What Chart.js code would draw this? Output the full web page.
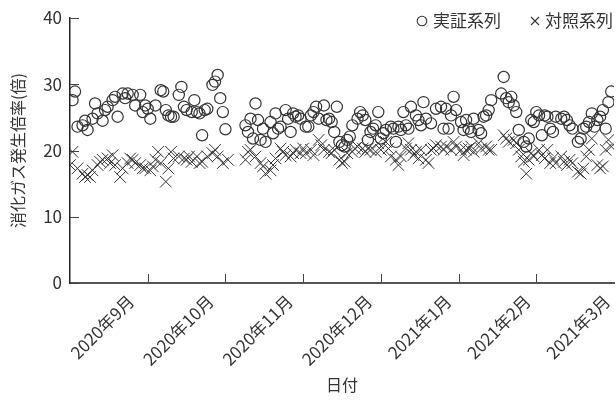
<!DOCTYPE html>
<html lang="ja">
<head>
<meta charset="utf-8">
<script src="https://cdn.jsdelivr.net/npm/chart.js@4/dist/chart.umd.min.js"></script>
<style>
  html, body { margin: 0; padding: 0; background: #fff; }
  #wrap { width: 616px; height: 403px; position: relative; }
</style>
</head>
<body>
<div id="wrap"><canvas id="chart"></canvas></div>
<script>
// 目盛りラベル (各月1日の位置)
const monthLabels = ['2020年9月', '2020年10月', '2020年11月', '2020年12月', '2021年1月', '2021年2月', '2021年3月'];
const xTitle = '日付';
const yTitle = '消化ガス発生倍率(倍)';
const yTicks = [0, 10, 20, 30, 40];

// 実証系列
const demoDates = [
  '2020-08-02','2020-08-03','2020-08-04','2020-08-06','2020-08-07','2020-08-08','2020-08-10','2020-08-11','2020-08-12','2020-08-14',
  '2020-08-15','2020-08-16','2020-08-18','2020-08-19','2020-08-20','2020-08-22','2020-08-23','2020-08-24','2020-08-26','2020-08-27',
  '2020-08-29','2020-08-30','2020-08-31',
  '2020-09-01','2020-09-02','2020-09-04','2020-09-06','2020-09-07','2020-09-08','2020-09-09','2020-09-10','2020-09-11','2020-09-13',
  '2020-09-14','2020-09-15','2020-09-16','2020-09-18','2020-09-19','2020-09-20','2020-09-21','2020-09-22','2020-09-23','2020-09-24',
  '2020-09-26','2020-09-27','2020-09-28','2020-09-29','2020-09-30',
  '2020-10-01','2020-10-09','2020-10-10','2020-10-11','2020-10-12','2020-10-13','2020-10-14','2020-10-15','2020-10-16','2020-10-17',
  '2020-10-19','2020-10-20','2020-10-21','2020-10-22','2020-10-23','2020-10-25','2020-10-26','2020-10-27','2020-10-28','2020-10-29',
  '2020-10-30','2020-10-31',
  '2020-11-02','2020-11-03','2020-11-04','2020-11-05','2020-11-06','2020-11-07','2020-11-09','2020-11-10','2020-11-11','2020-11-12',
  '2020-11-13','2020-11-14','2020-11-15','2020-11-16','2020-11-17','2020-11-18','2020-11-19','2020-11-20','2020-11-22','2020-11-23',
  '2020-11-24','2020-11-25','2020-11-26','2020-11-27','2020-11-28','2020-11-29','2020-11-30',
  '2020-12-01','2020-12-02','2020-12-03','2020-12-05','2020-12-06','2020-12-07','2020-12-08','2020-12-09','2020-12-10','2020-12-11',
  '2020-12-12','2020-12-13','2020-12-15','2020-12-16','2020-12-17','2020-12-18','2020-12-19','2020-12-21','2020-12-23','2020-12-25',
  '2020-12-26','2020-12-27','2020-12-28','2020-12-29','2020-12-30','2020-12-31',
  '2021-01-02','2021-01-03','2021-01-04','2021-01-05','2021-01-06','2021-01-07','2021-01-09','2021-01-10','2021-01-11','2021-01-12',
  '2021-01-13','2021-01-14','2021-01-18','2021-01-19','2021-01-20','2021-01-21','2021-01-22','2021-01-23','2021-01-24','2021-01-25',
  '2021-01-27','2021-01-28','2021-01-29','2021-01-30','2021-01-31',
  '2021-02-01','2021-02-02','2021-02-03','2021-02-04','2021-02-05','2021-02-06','2021-02-07','2021-02-08','2021-02-10','2021-02-11',
  '2021-02-12','2021-02-13','2021-02-14','2021-02-16','2021-02-17','2021-02-18','2021-02-19','2021-02-20','2021-02-21','2021-02-22',
  '2021-02-23','2021-02-24','2021-02-25','2021-02-26','2021-02-27','2021-02-28'
];
const demoValues = [
  27.6, 28.9, 23.6, 23.8, 24.5, 23.1, 24.8, 27.1, 25.6, 24.5,
  26.1, 26.6, 27.6, 28.1, 25.1, 28.6, 27.9, 28.6, 28.4, 26.8,
  28.4, 25.8, 26.8,
  26.3, 24.8, 26.8, 29.1, 28.9, 26.1, 25.3, 25.1, 25.1, 28.4,
  29.6, 26.6, 26.1, 25.8, 27.6, 25.8, 25.6, 22.3, 26.1, 26.3,
  29.9, 30.4, 31.4, 27.9, 25.8,
  23.2, 23.8, 22.8, 24.8, 21.8, 27.1, 24.6, 21.6, 23.3, 21.3,
  24.3, 22.6, 25.6, 23.3, 23.6, 26.1, 24.8, 22.8, 25.6, 25.1,
  25.3, 24.8,
  23.6, 23.6, 25.3, 25.8, 26.6, 24.8, 26.8, 24.6, 24.8, 24.3,
  22.8, 26.6, 21.3, 20.8, 20.6, 21.6, 22.1, 23.8, 24.8, 25.8,
  25.3, 24.6, 21.6, 22.8, 23.3, 23.8, 25.8,
  21.8, 22.6, 23.1, 23.6, 23.3, 21.3, 23.6, 23.1, 25.8, 23.8,
  23.3, 26.6, 25.3, 24.6, 23.8, 27.3, 24.8, 24.1, 26.3, 26.6,
  23.3, 26.3, 23.3, 25.3, 28.1, 26.1,
  24.3, 23.1, 24.6, 23.3, 22.8, 24.8, 23.1, 22.6, 25.1, 25.3,
  26.1, 27.6, 28.6, 31.1, 27.9, 27.3, 28.1, 26.8, 25.8, 23.1,
  21.3, 20.6, 21.8, 24.6, 24.3,
  25.8, 25.3, 22.3, 25.3, 25.1, 23.3, 22.8, 25.1, 24.8, 25.1,
  24.6, 23.8, 23.3, 21.3, 21.8, 23.3, 23.6, 24.3, 25.6, 23.6,
  24.6, 25.1, 26.1, 23.3, 27.3, 28.9
];

// 対照系列
const ctrlDates = [
  '2020-08-01','2020-08-02','2020-08-04','2020-08-06','2020-08-07','2020-08-08','2020-08-09','2020-08-10','2020-08-12','2020-08-13',
  '2020-08-14','2020-08-16','2020-08-17','2020-08-18','2020-08-19','2020-08-21','2020-08-22','2020-08-24','2020-08-25','2020-08-26',
  '2020-08-27','2020-08-29','2020-08-30','2020-08-31',
  '2020-09-02','2020-09-03','2020-09-04','2020-09-05','2020-09-06','2020-09-08','2020-09-09','2020-09-10','2020-09-11','2020-09-13',
  '2020-09-15','2020-09-16','2020-09-17','2020-09-18','2020-09-20','2020-09-21','2020-09-22','2020-09-24','2020-09-26','2020-09-27',
  '2020-09-28','2020-09-30',
  '2020-10-02','2020-10-09','2020-10-10','2020-10-11','2020-10-13','2020-10-15','2020-10-16','2020-10-17','2020-10-19','2020-10-20',
  '2020-10-21','2020-10-23','2020-10-24','2020-10-25','2020-10-27','2020-10-28','2020-10-29','2020-10-31',
  '2020-11-01','2020-11-02','2020-11-04','2020-11-05','2020-11-07','2020-11-08','2020-11-09','2020-11-11','2020-11-12','2020-11-13',
  '2020-11-15','2020-11-16','2020-11-17','2020-11-18','2020-11-20','2020-11-21','2020-11-22','2020-11-24','2020-11-25','2020-11-26',
  '2020-11-27','2020-11-29','2020-11-30',
  '2020-12-01','2020-12-03','2020-12-04','2020-12-05','2020-12-07','2020-12-08','2020-12-09','2020-12-11','2020-12-12','2020-12-13',
  '2020-12-14','2020-12-15','2020-12-16','2020-12-17','2020-12-19','2020-12-20','2020-12-21','2020-12-22','2020-12-23','2020-12-25',
  '2020-12-26','2020-12-27','2020-12-29','2020-12-30','2020-12-31',
  '2021-01-02','2021-01-03','2021-01-04','2021-01-05','2021-01-06','2021-01-07','2021-01-09','2021-01-10','2021-01-12','2021-01-13',
  '2021-01-14','2021-01-19','2021-01-20','2021-01-21','2021-01-23','2021-01-24','2021-01-25','2021-01-26','2021-01-27','2021-01-28',
  '2021-01-29','2021-01-30','2021-01-31',
  '2021-02-02','2021-02-03','2021-02-04','2021-02-05','2021-02-06','2021-02-07','2021-02-08','2021-02-10','2021-02-11','2021-02-12',
  '2021-02-13','2021-02-14','2021-02-16','2021-02-17','2021-02-18','2021-02-19','2021-02-20','2021-02-21','2021-02-23','2021-02-24',
  '2021-02-25','2021-02-26','2021-02-27','2021-02-28'
];
const ctrlValues = [
  17.8, 19.8, 17.3, 16.5, 16.0, 16.3, 16.0, 17.0, 17.8, 18.3,
  18.6, 18.8, 18.1, 19.3, 17.8, 16.0, 17.3, 18.1, 18.8, 18.6,
  18.1, 17.8, 17.3, 17.3,
  17.0, 17.6, 18.6, 19.8, 18.1, 15.3, 17.3, 19.8, 18.8, 19.1,
  18.8, 18.6, 19.1, 18.3, 19.1, 18.1, 18.3, 19.1, 19.6, 20.1,
  19.1, 18.1,
  18.6, 18.6, 19.8, 20.1, 19.1, 18.1, 17.6, 16.5, 17.0, 17.8,
  18.8, 20.3, 19.8, 19.3, 19.1, 19.6, 20.1, 19.6,
  20.3, 19.6, 20.1, 19.3, 21.6, 20.8, 20.1, 19.8, 19.6, 20.1,
  18.6, 18.1, 18.3, 19.6, 19.8, 20.3, 20.6, 20.3, 19.8, 20.3,
  20.1, 19.8, 21.1,
  20.1, 21.3, 20.3, 19.1, 18.6, 17.8, 19.1, 20.3, 21.1, 20.1,
  19.3, 19.8, 18.8, 20.1, 18.6, 18.1, 20.1, 20.3, 20.8, 20.6,
  20.1, 20.6, 20.1, 21.3, 20.6,
  20.1, 19.3, 20.1, 20.3, 20.6, 19.8, 21.1, 20.3, 20.6, 20.1,
  20.1, 22.3, 21.8, 21.3, 21.6, 21.1, 20.1, 19.1, 18.3, 16.5,
  18.6, 19.6, 19.1,
  20.1, 19.3, 18.8, 20.1, 18.1, 18.8, 18.1, 19.1, 18.3, 17.8,
  18.6, 18.1, 16.8, 16.5, 17.3, 19.1, 20.1, 21.8, 17.8, 17.3,
  17.6, 20.1, 21.6, 20.6
];

// 横軸は月ごとに等間隔 (2020年8月1日 = 0)
function monthPos(iso) {
  const [y, m, d] = iso.split('-').map(Number);
  const days = new Date(y, m, 0).getDate();
  return (y - 2020) * 12 + (m - 8) + (d - 1) / days;
}
const toPoints = (dates, values) => dates.map((d, i) => ({ x: monthPos(d), y: values[i] }));
const monthTicks = s => { s.ticks = monthLabels.map((_, i) => ({ value: i + 1 })); };

const INK = '#333';
Chart.defaults.font.family = "'Noto Sans CJK JP', 'Noto Sans', sans-serif";
Chart.defaults.color = INK;

// 内向きの目盛り線
const innerTicks = {
  id: 'innerTicks',
  beforeDatasetsDraw(chart) {
    const { ctx, chartArea: a, scales: { x, y } } = chart;
    ctx.save();
    ctx.strokeStyle = '#444';
    ctx.lineWidth = 1;
    ctx.beginPath();
    y.ticks.forEach(t => {
      const py = Math.round(y.getPixelForValue(t.value)) + 0.5;
      ctx.moveTo(a.left, py); ctx.lineTo(a.left + 9, py);
    });
    x.ticks.forEach(t => {
      if (t.value >= x.max) return;
      const px = Math.round(x.getPixelForValue(t.value)) + 0.5;
      ctx.moveTo(px, a.bottom); ctx.lineTo(px, a.bottom - 9);
    });
    ctx.stroke();
    ctx.restore();
  }
};

// 右上の凡例 (○ / ×)
const cornerLegend = {
  id: 'cornerLegend',
  afterDraw(chart) {
    const { ctx, chartArea: a } = chart;
    ctx.save();
    ctx.font = "17px 'Noto Sans CJK JP', sans-serif";
    ctx.fillStyle = INK;
    ctx.strokeStyle = INK;
    ctx.lineWidth = 1.1;
    ctx.textBaseline = 'middle';
    const cy = 21;
    let right = a.right - 1;
    chart.data.datasets.slice().reverse().forEach(ds => {
      const w = ctx.measureText(ds.label).width;
      const tx = right - w;
      ctx.fillText(ds.label, tx, cy);
      const isCircle = ds.pointStyle === 'circle';
      const sx = tx - (isCircle ? 11 : 10);
      ctx.beginPath();
      if (isCircle) {
        ctx.arc(sx, cy, 4.8, 0, Math.PI * 2);
      } else {
        ctx.moveTo(sx - 4, cy - 4); ctx.lineTo(sx + 4, cy + 4);
        ctx.moveTo(sx + 4, cy - 4); ctx.lineTo(sx - 4, cy + 4);
      }
      ctx.stroke();
      right = sx - 34;
    });
    ctx.restore();
  }
};

// ラベルのはみ出し分の自動余白を使わない
const noScalePadding = s => {
  s.paddingLeft = 0; s.paddingRight = 0; s.paddingTop = 0; s.paddingBottom = 0;
};

new Chart(document.getElementById('chart'), {
  type: 'scatter',
  data: {
    datasets: [
      {
        label: '実証系列',
        data: toPoints(demoDates, demoValues),
        pointStyle: 'circle',
        pointRadius: 5.6,
        pointBorderWidth: 1.2,
        pointBorderColor: INK,
        pointBackgroundColor: 'rgba(0,0,0,0)'
      },
      {
        label: '対照系列',
        data: toPoints(ctrlDates, ctrlValues),
        pointStyle: 'crossRot',
        pointRadius: 8.2,
        pointBorderWidth: 1,
        pointBorderColor: INK
      }
    ]
  },
  options: {
    animation: false,
    responsive: true,
    maintainAspectRatio: false,
    layout: { autoPadding: false, padding: { top: 18, right: 2, left: 0, bottom: 0 } },
    plugins: { legend: { display: false }, tooltip: { enabled: false } },
    scales: {
      // データ用の横軸 (軸線と目盛り線のみ)
      x: {
        type: 'linear',
        position: 'bottom',
        weight: 0,
        min: 0,
        max: monthLabels.length,
        afterBuildTicks: monthTicks,
        afterFit: s => { s.height = 0; noScalePadding(s); },
        grid: { display: false, drawTicks: false },
        border: { color: '#555', width: 2 },
        ticks: { display: false }
      },
      // 月ラベル用の横軸 (元図のラベル間隔が目盛りより少し広い)
      xLabels: {
        type: 'linear',
        position: 'bottom',
        weight: 1,
        min: 0.23,
        max: 7.09,
        afterBuildTicks: monthTicks,
        afterFit: s => { s.height = 120; noScalePadding(s); },
        grid: { display: false, drawTicks: false },
        border: { display: false },
        ticks: {
          autoSkip: false,
          minRotation: 45,
          maxRotation: 45,
          padding: 8,
          font: { size: 17 },
          callback: (v, i) => monthLabels[i]
        },
        title: { display: true, text: xTitle, font: { size: 16 }, padding: { bottom: 8 } }
      },
      y: {
        min: 0,
        max: 40,
        afterBuildTicks: s => { s.ticks = yTicks.map(v => ({ value: v })); },
        afterFit: s => { s.width = 70; noScalePadding(s); },
        grid: { display: false, drawTicks: false },
        border: { color: '#222', width: 1.5 },
        ticks: { padding: 8, font: { size: 17 } },
        title: { display: true, text: yTitle, font: { size: 16 }, padding: { top: 8 } }
      }
    }
  },
  plugins: [innerTicks, cornerLegend]
});
</script>
</body>
</html>
